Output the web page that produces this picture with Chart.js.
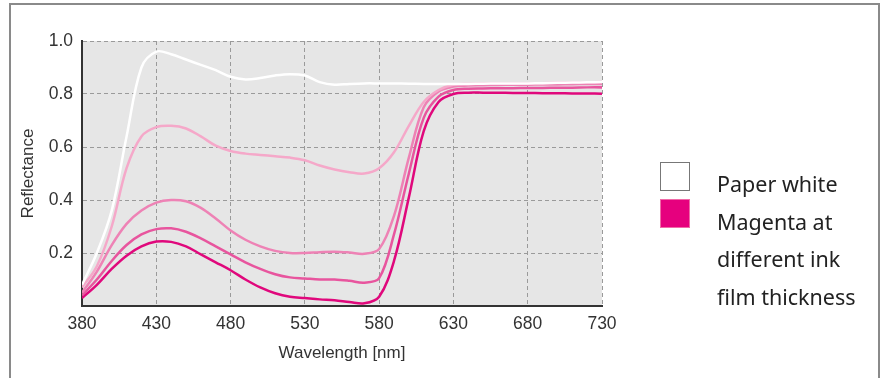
<!DOCTYPE html>
<html lang="en">
<head>
    <meta charset="UTF-8">
    <title>Reflectance spectra</title>
    <script src="https://cdn.jsdelivr.net/npm/chart.js"></script>
    <style>
        body {
            margin: 0;
            background: #fff;
            font-family: "Liberation Sans", Arial, sans-serif;
        }
        #wrap {
            position: relative;
            width: 885px;
            height: 378px;
            overflow: hidden;
        }
        #frame {
            position: absolute;
            left: 9px;
            top: 3px;
            width: 867px;
            height: 380px;
            border: 2px solid #8a8a8a;
            border-bottom: none;
        }
        #chartBox {
            position: absolute;
            left: 0;
            top: 0;
            width: 885px;
            height: 378px;
        }
        .swatch {
            position: absolute;
            left: 660px;
            width: 28px;
            height: 27px;
        }
        #legendText {
            position: absolute;
            left: 717px;
            top: 165px;
            font-family: "Noto Sans", sans-serif;
            font-size: 21.5px;
            line-height: 37.5px;
            color: #222;
        }
    </style>
</head>
<body>
<div id="wrap">
    <div id="frame"></div>
    <div id="chartBox"><canvas id="spectra"></canvas></div>
    <div class="swatch" style="top:162px; background:#fff; border:1.5px solid #777;"></div>
    <div class="swatch" style="top:199px; background:#e6007e; border:1.5px solid #f06aa8;"></div>
    <div id="legendText">Paper white<br>Magenta at<br>different ink<br>film thickness</div>
</div>
<script>
    // wavelengths in nm, 10 nm steps
    const wavelengths = [380, 390, 400, 410, 420, 430, 440, 450, 460, 470, 480, 490, 500, 510, 520, 530, 540, 550,
        560, 570, 580, 590, 600, 610, 620, 630, 640, 650, 660, 670, 680, 690, 700, 710, 720, 730];

    const paperWhite = [0.08, 0.20, 0.36, 0.64, 0.90, 0.96, 0.95, 0.93, 0.91, 0.89, 0.865, 0.855, 0.86, 0.87, 0.875,
        0.87, 0.845, 0.835, 0.838, 0.84, 0.84, 0.84, 0.839, 0.838, 0.838, 0.838, 0.838, 0.839, 0.84, 0.84, 0.84,
        0.841, 0.842, 0.843, 0.844, 0.845];

    const magentaThin = [0.07, 0.15, 0.30, 0.52, 0.64, 0.675, 0.68, 0.67, 0.64, 0.605, 0.585, 0.575, 0.57, 0.565,
        0.56, 0.55, 0.53, 0.515, 0.505, 0.50, 0.52, 0.58, 0.68, 0.77, 0.815, 0.835, 0.838, 0.839, 0.84, 0.84, 0.84,
        0.841, 0.842, 0.843, 0.844, 0.845];

    const magentaMid1 = [0.05, 0.13, 0.23, 0.31, 0.36, 0.39, 0.40, 0.395, 0.37, 0.33, 0.285, 0.25, 0.225, 0.208,
        0.20, 0.20, 0.203, 0.205, 0.202, 0.197, 0.215, 0.34, 0.56, 0.75, 0.81, 0.828, 0.832, 0.833, 0.834, 0.835,
        0.835, 0.836, 0.836, 0.837, 0.838, 0.838];

    const magentaMid2 = [0.04, 0.10, 0.17, 0.23, 0.27, 0.29, 0.293, 0.28, 0.255, 0.225, 0.195, 0.165, 0.14, 0.12,
        0.108, 0.104, 0.10, 0.10, 0.095, 0.088, 0.105, 0.27, 0.50, 0.71, 0.79, 0.815, 0.82, 0.821, 0.822, 0.822,
        0.823, 0.823, 0.824, 0.824, 0.825, 0.825];

    const magentaThick = [0.03, 0.08, 0.14, 0.19, 0.225, 0.243, 0.242, 0.225, 0.195, 0.165, 0.135, 0.10, 0.07,
        0.048, 0.035, 0.03, 0.025, 0.022, 0.015, 0.01, 0.035, 0.17, 0.41, 0.66, 0.77, 0.80, 0.805, 0.805, 0.805,
        0.804, 0.804, 0.803, 0.803, 0.802, 0.802, 0.801];

    const xTicks = [380, 430, 480, 530, 580, 630, 680, 730];
    const yTicks = [0.2, 0.4, 0.6, 0.8, 1.0];

    const series = [
        { label: 'Paper white', values: paperWhite, color: '#ffffff' },
        { label: 'Magenta 1', values: magentaThin, color: '#f5a8c9' },
        { label: 'Magenta 2', values: magentaMid1, color: '#ee82b5' },
        { label: 'Magenta 3', values: magentaMid2, color: '#e8559e' },
        { label: 'Magenta 4', values: magentaThick, color: '#e0087c' }
    ];

    // grey plot background
    const plotBg = {
        id: 'plotBg',
        beforeDraw(chart) {
            const a = chart.chartArea;
            const ctx = chart.ctx;
            ctx.save();
            ctx.fillStyle = '#e6e6e6';
            ctx.fillRect(a.left, a.top, a.right - a.left, a.bottom - a.top);
            ctx.restore();
        }
    };

    const tickFont = { family: 'Liberation Sans', size: 17.5 };
    const titleFont = { family: 'Liberation Sans', size: 17 };

    new Chart(document.getElementById('spectra'), {
        type: 'line',
        data: {
            datasets: series.map(s => ({
                label: s.label,
                data: wavelengths.map((w, i) => ({ x: w, y: s.values[i] })),
                borderColor: s.color,
                borderWidth: 2.5,
                pointRadius: 0,
                tension: 0.35,
                fill: false
            }))
        },
        options: {
            responsive: true,
            maintainAspectRatio: false,
            animation: false,
            layout: { padding: { left: 0, top: 41, right: 283, bottom: 0 } },
            plugins: {
                legend: { display: false },
                tooltip: { enabled: false }
            },
            scales: {
                x: {
                    type: 'linear',
                    min: 380,
                    max: 730,
                    afterBuildTicks: s => { s.ticks = xTicks.map(v => ({ value: v })); },
                    afterFit: s => { s.height = 72; },
                    ticks: {
                        color: '#333',
                        font: tickFont,
                        padding: 8,
                        maxRotation: 0
                    },
                    grid: {
                        color: '#9a9a9a',
                        lineWidth: 1,
                        drawTicks: false
                    },
                    border: { display: true, color: '#333', width: 2, dash: [4, 3] },
                    title: {
                        display: true,
                        text: 'Wavelength [nm]',
                        color: '#333',
                        font: titleFont,
                        padding: { top: 4, bottom: 14 }
                    }
                },
                y: {
                    min: 0,
                    max: 1.0,
                    afterBuildTicks: s => { s.ticks = [0].concat(yTicks).map(v => ({ value: v })); },
                    afterFit: s => { s.width = 82; },
                    ticks: {
                        color: '#333',
                        font: tickFont,
                        padding: 9,
                        callback: v => (v === 0 ? '' : v.toFixed(1))
                    },
                    grid: {
                        color: '#9a9a9a',
                        lineWidth: 1,
                        drawTicks: false
                    },
                    border: { display: true, color: '#333', width: 2, dash: [4, 3] },
                    title: {
                        display: true,
                        text: 'Reflectance',
                        color: '#333',
                        font: titleFont,
                        padding: { top: 18, bottom: 0 }
                    }
                }
            }
        },
        plugins: [plotBg]
    });
</script>
</body>
</html>
